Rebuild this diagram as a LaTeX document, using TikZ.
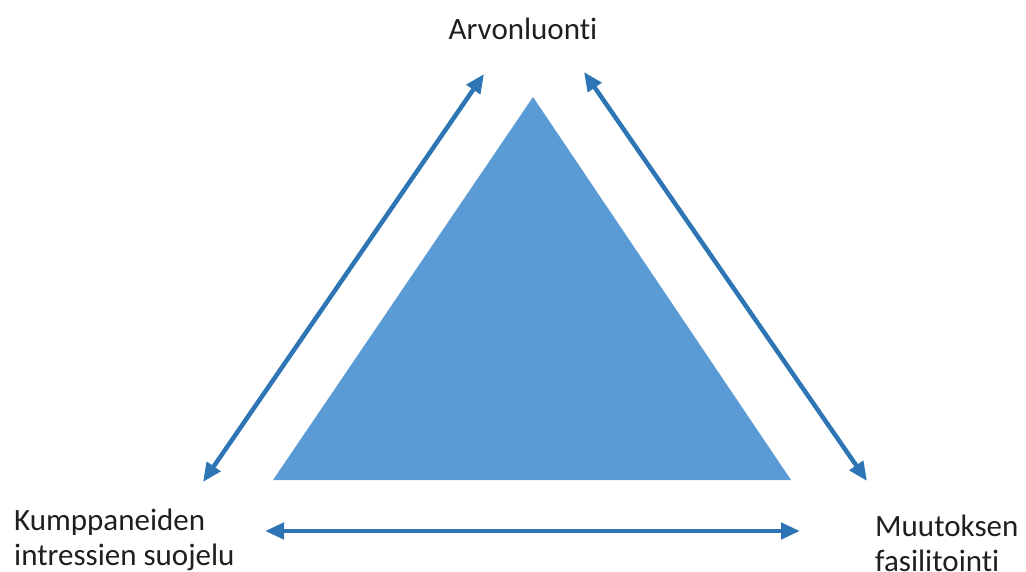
\documentclass[tikz,border=0pt]{standalone}
\usepackage{fontspec}
\setmainfont[Ligatures=NoCommon]{Carlito}
\usetikzlibrary{arrows.meta}
\definecolor{trifill}{HTML}{5B9BD5}
\definecolor{arrowblue}{HTML}{2E75B6}
\tikzset{
  label/.style={inner sep=0pt, font=\fontsize{31}{35}\selectfont, text=black!88},
  link/.style={draw=arrowblue, line width=4.5pt, {Triangle[length=19pt,width=16pt]}-{Triangle[length=19pt,width=16pt]}},
}
\begin{document}
\begin{tikzpicture}[x=1pt,y=-1pt]
\useasboundingbox (0,0) rectangle (1026,572);
% triangle
\coordinate (apex) at (533,97);
\coordinate (bl) at (273,480);
\coordinate (br) at (791,480);
\fill[trifill] (apex) -- (bl) -- (br) -- cycle;
% labels
\node[label, anchor=base] (top) at (523,40) {Arvonluonti};
\node[label, anchor=base west, align=left] (left) at (14,565) {Kumppaneiden\\intressien\ suojelu};
\node[label, anchor=base west, align=left] (right) at (875,571) {Muutoksen\\fasilitointi};
% arrow ends
\coordinate (l1) at (484,74);
\coordinate (l2) at (203,482);
\coordinate (r1) at (584,72);
\coordinate (r2) at (867,481);
\coordinate (b1) at (265,531);
\coordinate (b2) at (800,531);
\draw[link] (l1) -- (l2);
\draw[link] (r1) -- (r2);
\draw[link] (b1) -- (b2);
\end{tikzpicture}
\end{document}
